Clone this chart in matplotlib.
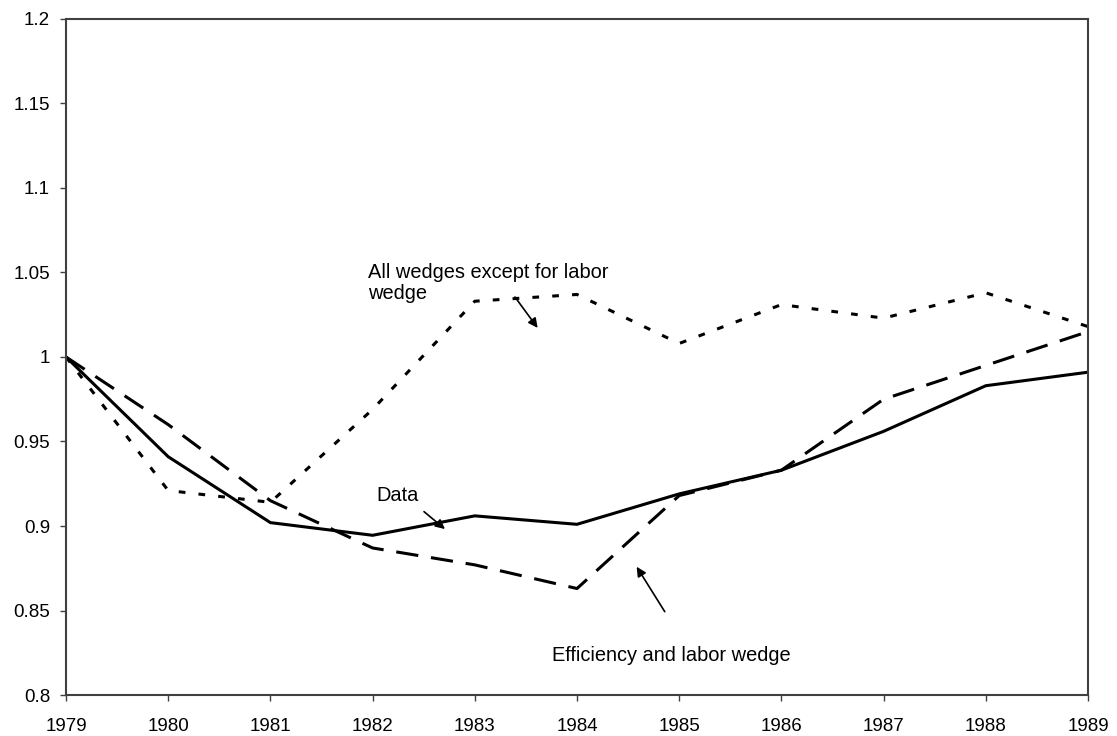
import numpy as np
from matplotlib import pyplot as plt

plt.rcParams['font.family'] = ['Liberation Sans', 'DejaVu Sans']

years = list(range(1979, 1990))
data = [1.0, 0.941, 0.902, 0.8945, 0.906, 0.901, 0.919, 0.933, 0.956, 0.983, 0.991]
eff_labor = [1.0, 0.960, 0.915, 0.887, 0.877, 0.863, 0.918, 0.933, 0.975, 0.995, 1.015]
all_but_labor = [1.0, 0.921, 0.914, 0.969, 1.033, 1.037, 1.008, 1.031, 1.023, 1.038, 1.018]
yticks = [0.8, 0.85, 0.9, 0.95, 1.0, 1.05, 1.1, 1.15, 1.2]
ytick_labels = ['0.8', '0.85', '0.9', '0.95', '1', '1.05', '1.1', '1.15', '1.2']

fig = plt.figure(figsize=(11.17, 7.36), dpi=100)
ax = fig.add_axes([0.0591, 0.0557, 0.974 - 0.0591, 0.9742 - 0.0557])

ax.plot(years, data, color='black', lw=2.2, solid_joinstyle='miter')
ax.plot(years, eff_labor, color='black', lw=2.2, dashes=(7.3, 4.2))
ax.plot(years, all_but_labor, color='black', lw=2.2, dashes=(2.2, 4.3))

ax.set_xlim(1979, 1989)
ax.set_ylim(0.8, 1.2)
ax.set_xticks(years)
ax.set_xticklabels([str(y) for y in years])
ax.set_yticks(yticks)
ax.set_yticklabels(ytick_labels)

for s in ax.spines.values():
    s.set_color('#404040')
    s.set_linewidth(1.5)
ax.tick_params(direction='out', length=4.5, width=1, color='#404040',
               labelsize=13.5, pad=7)
ax.tick_params(axis='x', pad=12)

# annotations
ax.text(1981.955, 1.0438, 'All wedges except for labor\nwedge', fontsize=14.4,
        ha='left', va='center', linespacing=1.1)
ax.annotate('', xy=(1983.615, 1.0172), xytext=(1983.393, 1.0355),
            arrowprops=dict(arrowstyle='-|>', lw=1.2, color='black',
                            mutation_scale=14, shrinkA=0, shrinkB=0))

ax.text(1982.249, 0.9178, 'Data', fontsize=14.4, ha='center', va='center')
ax.annotate('', xy=(1982.708, 0.8982), xytext=(1982.503, 0.9085),
            arrowprops=dict(arrowstyle='-|>', lw=1.2, color='black',
                            mutation_scale=14, shrinkA=0, shrinkB=0))

ax.text(1983.755, 0.8231, 'Efficiency and labor wedge', fontsize=14.4,
        ha='left', va='center')
ax.annotate('', xy=(1984.584, 0.8759), xytext=(1984.859, 0.8493),
            arrowprops=dict(arrowstyle='-|>', lw=1.2, color='black',
                            mutation_scale=14, shrinkA=0, shrinkB=0))

fig.savefig('out.png', dpi=100)
